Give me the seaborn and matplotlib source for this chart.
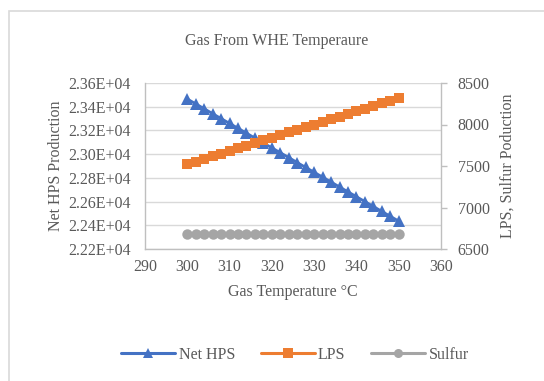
import matplotlib
matplotlib.use("Agg")
import matplotlib.pyplot as plt
import matplotlib.patches as mpatches
from matplotlib.lines import Line2D
import seaborn as sns
import pandas as pd

# Gas temperature (°C) and production figures
gas_temp = [300, 302, 304, 306, 308, 310, 312, 314, 316, 318, 320, 322, 324,
            326, 328, 330, 332, 334, 336, 338, 340, 342, 344, 346, 348, 350]
net_hps = [23465, 23424, 23383, 23341, 23300, 23259, 23218, 23177, 23135,
           23094, 23053, 23012, 22971, 22929, 22888, 22847, 22806, 22765,
           22723, 22682, 22641, 22600, 22559, 22517, 22476, 22435]
lps = [7520, 7552, 7584, 7616, 7648, 7680, 7712, 7744, 7776, 7808, 7840,
       7872, 7904, 7936, 7968, 8000, 8032, 8064, 8096, 8128, 8160, 8192,
       8224, 8256, 8288, 8320]
sulfur = [6675] * 26

df = pd.DataFrame({"temp": gas_temp, "Net HPS": net_hps, "LPS": lps, "Sulfur": sulfur})

sns.set_theme(style="white")
plt.rcParams["font.family"] = ["Liberation Serif", "DejaVu Serif"]

TXT = "#595959"
GRID = "#d9d9d9"
SPINE = "#bfbfbf"
C_HPS, C_LPS, C_S = "#4472C4", "#ED7D31", "#A5A5A5"
FS = 11.5

fig = plt.figure(figsize=(5.44, 3.81), dpi=100)
ax = fig.add_axes([145 / 544, 1 - 249 / 381, (441 - 145) / 544, (249 - 83) / 381])
ax2 = ax.twinx()

sns.lineplot(data=df, x="temp", y="Net HPS", ax=ax, color=C_HPS, lw=2.0,
             marker="^", markersize=8.5, markeredgewidth=0, legend=False, zorder=3)
sns.lineplot(data=df, x="temp", y="LPS", ax=ax2, color=C_LPS, lw=2.0,
             marker="s", markersize=7.5, markeredgewidth=0, legend=False, zorder=3)
sns.lineplot(data=df, x="temp", y="Sulfur", ax=ax2, color=C_S, lw=2.0,
             marker="o", markersize=7.5, markeredgewidth=0, legend=False, zorder=3)

ax.set_xlim(290, 360)
ax.set_xticks(range(290, 361, 10))
ax.set_ylim(22200, 23600)
ax.set_yticks(range(22200, 23601, 200))
ax.yaxis.set_major_formatter(matplotlib.ticker.FuncFormatter(lambda v, p: f"{v:.2E}"))
ax2.set_ylim(6500, 8500)
ax2.set_yticks(range(6500, 8501, 500))

ax.grid(axis="y", color=GRID, lw=1)
ax.set_axisbelow(True)
for a in (ax, ax2):
    for s in a.spines.values():
        s.set_visible(False)
ax.spines["left"].set_visible(True)
ax.spines["bottom"].set_visible(True)
ax2.spines["right"].set_visible(True)
for s in (ax.spines["left"], ax.spines["bottom"], ax2.spines["right"]):
    s.set_color(SPINE)
    s.set_linewidth(1)

ax.tick_params(axis="x", length=0, labelsize=FS, labelcolor=TXT, pad=7)
ax.tick_params(axis="y", length=0, labelsize=FS, labelcolor=TXT, pad=10)
ax2.tick_params(axis="y", length=4, width=1, color=SPINE, labelsize=FS,
                labelcolor=TXT, pad=8, direction="out")

ax.set_xlabel("Gas Temperature °C", fontsize=FS, color=TXT, labelpad=7)
ax.set_ylabel("Net HPS Production", fontsize=FS, color=TXT, labelpad=3)
ax2.set_ylabel("LPS, Sulfur Poduction", fontsize=FS, color=TXT,
               rotation=90, labelpad=7)

fig.text(277 / 544, 1 - 41 / 381, "Gas From WHE Temperaure", ha="center",
         va="center", fontsize=FS, color=TXT)

handles = [
    Line2D([], [], color=C_HPS, lw=2.2, marker="^", markersize=7, markeredgewidth=0),
    Line2D([], [], color=C_LPS, lw=2.2, marker="s", markersize=6.5, markeredgewidth=0),
    Line2D([], [], color=C_S, lw=2.2, marker="o", markersize=6.5, markeredgewidth=0),
]
leg = fig.legend(handles, ["Net HPS", "LPS", "Sulfur"], loc="center",
                 bbox_to_anchor=(295 / 544, 1 - 355 / 381), ncol=3, frameon=False,
                 fontsize=FS, handlelength=3.4, handletextpad=0.2,
                 columnspacing=1.6)
for t in leg.get_texts():
    t.set_color(TXT)

# chart frame
fig.patches.append(mpatches.Rectangle((8.5 / 544, -0.05), 1.2, 1 - 11 / 381 + 0.05,
                                      transform=fig.transFigure, fill=False,
                                      edgecolor=GRID, lw=1.2))

fig.savefig("out.png", dpi=100)
